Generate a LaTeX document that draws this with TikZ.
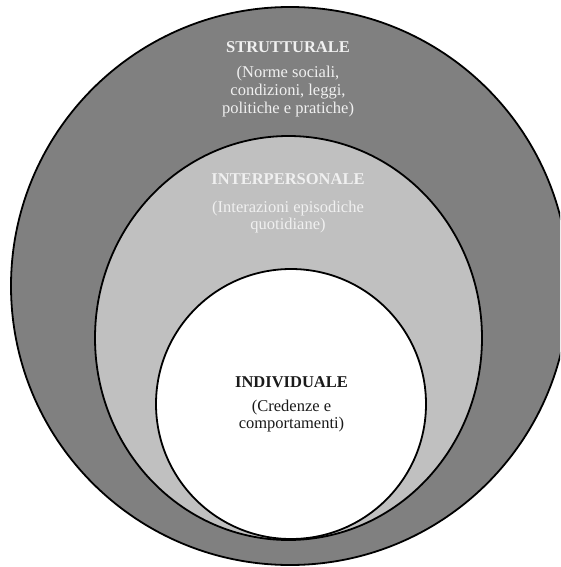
\documentclass[tikz,border=0pt]{standalone}
\usepackage{fontspec}
\setmainfont{Liberation Serif}
\definecolor{ringdark}{HTML}{808080}
\definecolor{ringlight}{HTML}{C0C0C0}
\definecolor{paletext}{HTML}{F0F0F0}
\definecolor{darktext}{HTML}{1A1A1A}
\begin{document}
\begin{tikzpicture}[x=1pt,y=-1pt,
  ring/.style={draw=black,line width=1.8pt},
  titlelbl/.style={font=\fontsize{16.5}{18}\selectfont\bfseries,inner sep=0pt},
  sublbl/.style={font=\fontsize{16.5}{18}\selectfont,align=center,inner sep=0pt},
]
\useasboundingbox (0,0) rectangle (560,567);
\clip (0,0) rectangle (560,567);
\fill[white] (0,0) rectangle (560,567);
% outer ring
\draw[ring,fill=ringdark] (290,286) circle (279);
% middle ring
\draw[ring,fill=ringlight] (288.5,338) ellipse [x radius=193.5, y radius=202];
% inner
\draw[ring,fill=white] (291,404) circle (135);
% labels
\node[titlelbl,text=paletext] (strT) at (288,47) {STRUTTURALE};
\node[sublbl,text=paletext] (strS) at (288,92) {(Norme sociali,\\condizioni, leggi,\\politiche e pratiche)};
\node[titlelbl,text=paletext] (intT) at (288,179) {INTERPERSONALE};
\node[sublbl,text=paletext,font=\fontsize{16.5}{16.5}\selectfont] (intS) at (288,217) {(Interazioni episodiche\\quotidiane)};
\node[titlelbl,text=darktext] (indT) at (291.5,382) {INDIVIDUALE};
\node[sublbl,text=darktext,font=\fontsize{16.5}{16.5}\selectfont] (indS) at (291.5,416) {(Credenze e\\comportamenti)};
\end{tikzpicture}
\end{document}
